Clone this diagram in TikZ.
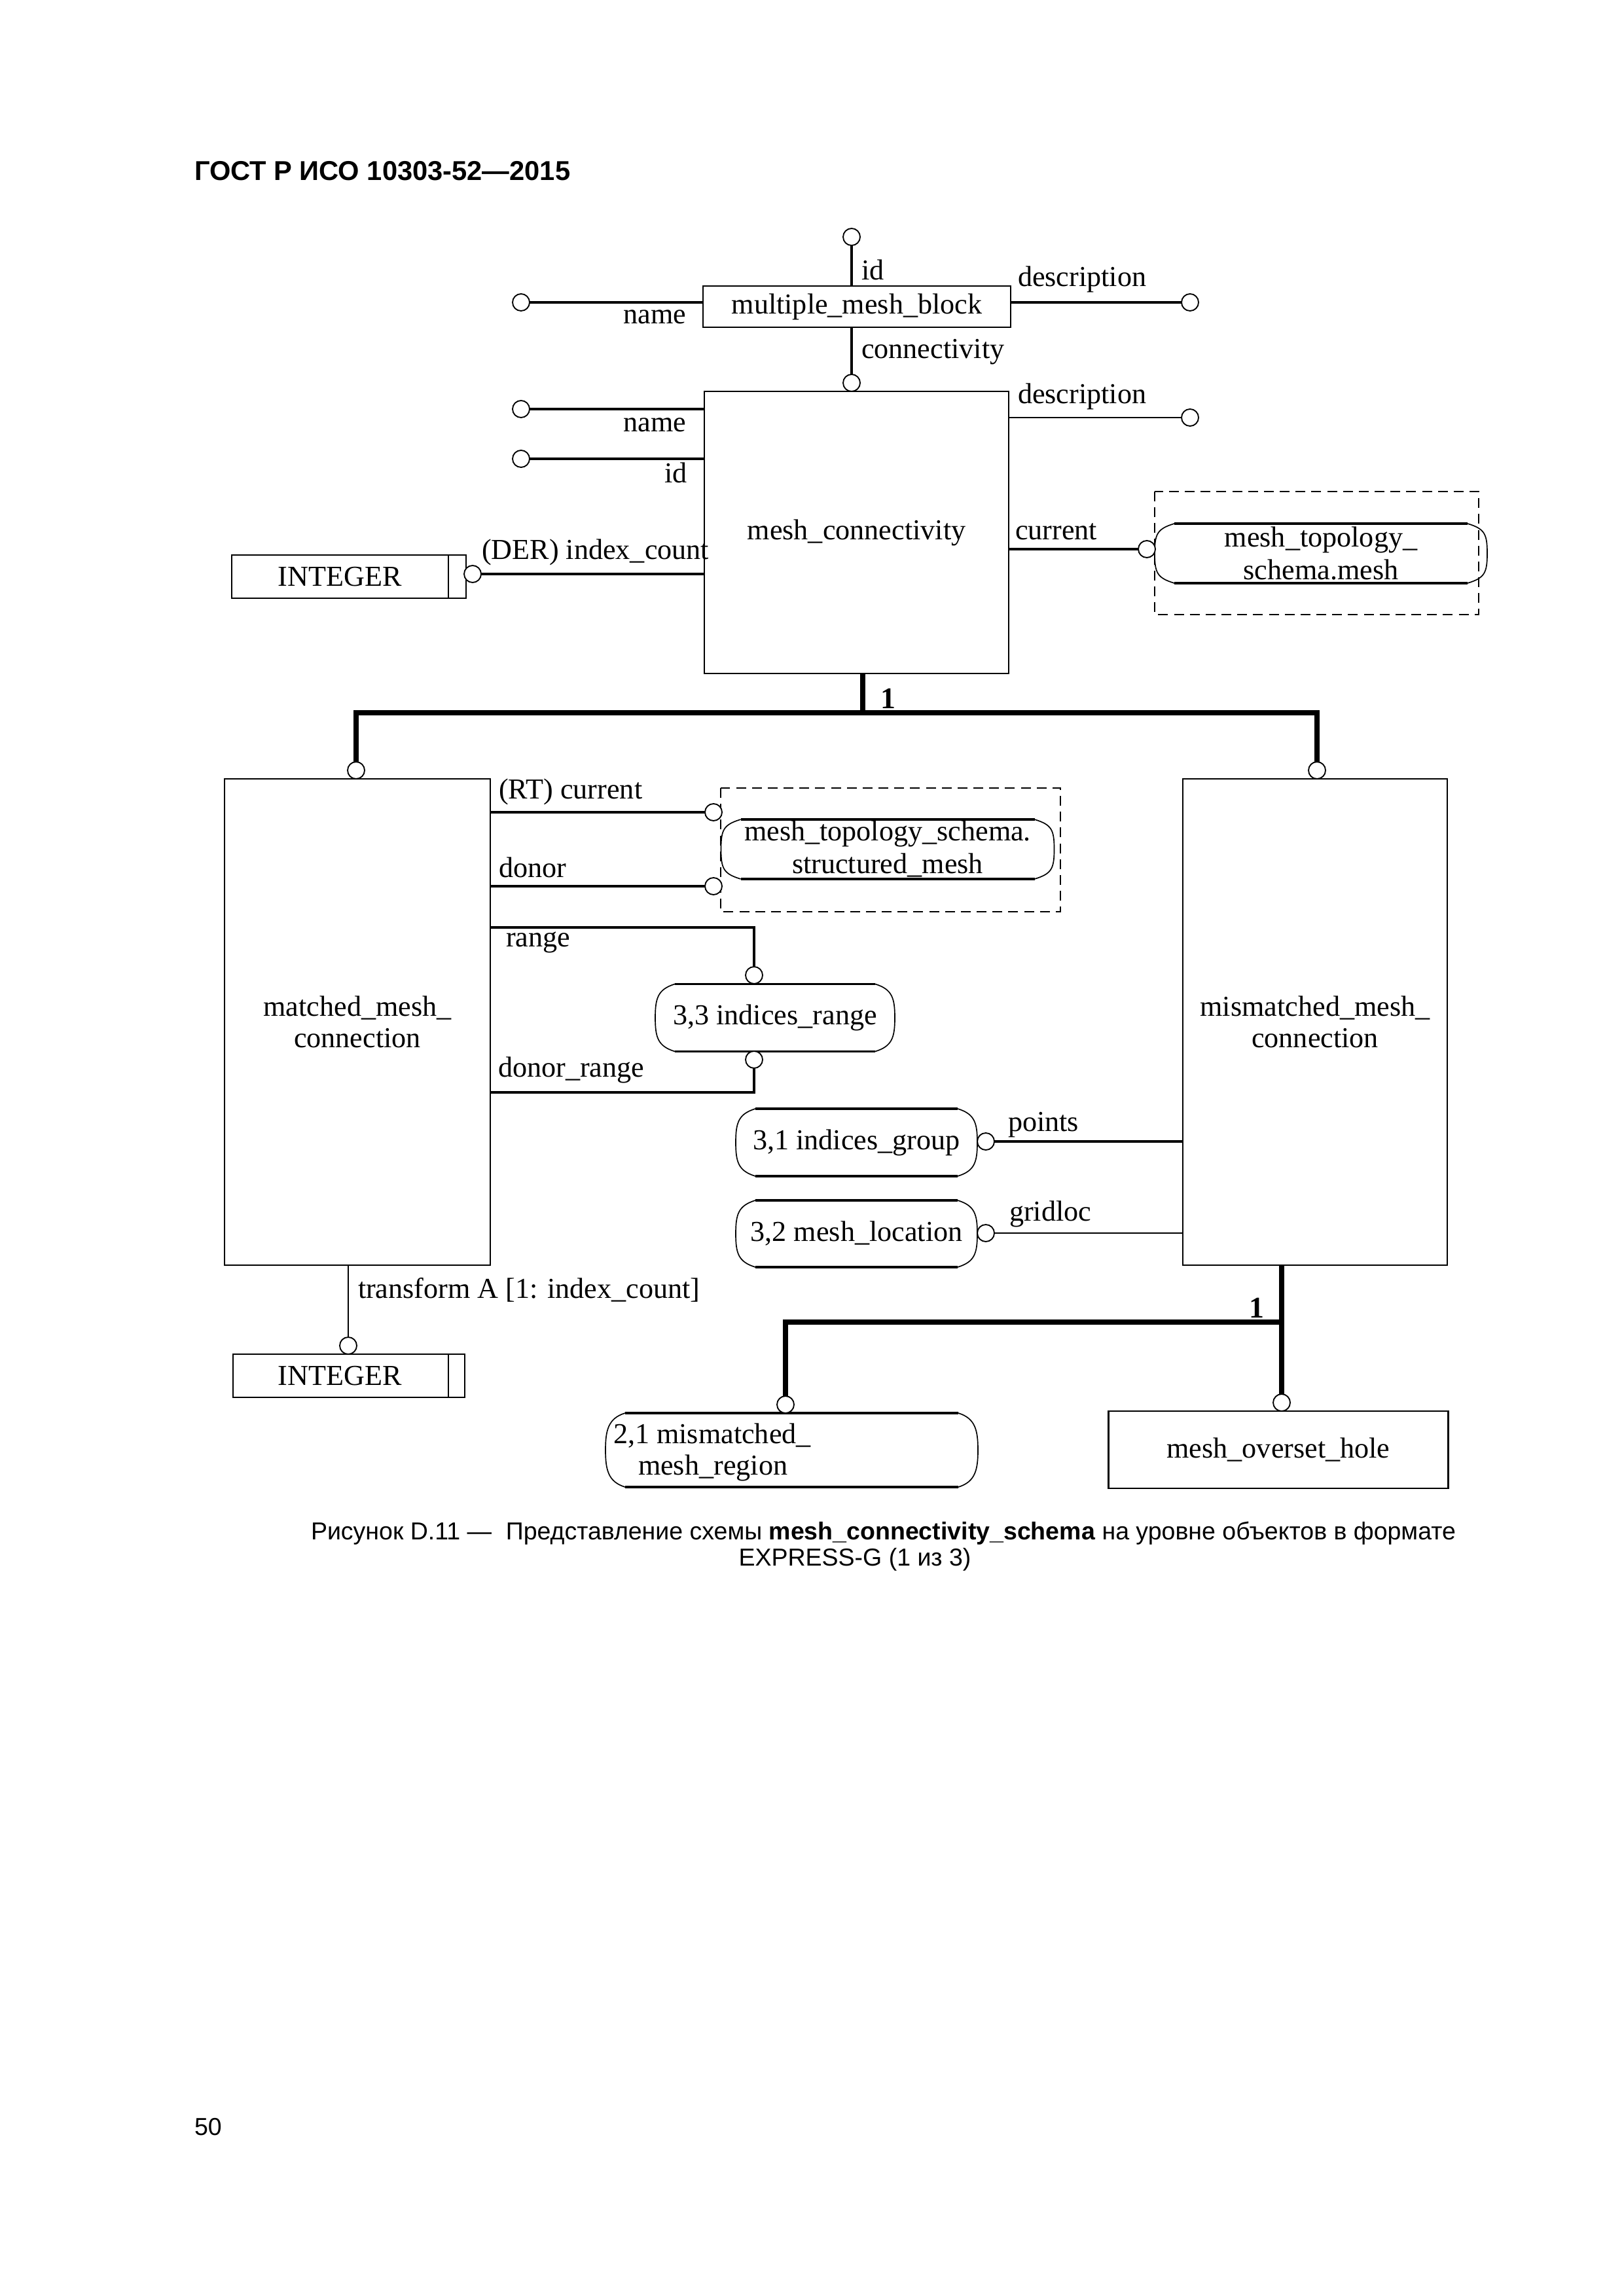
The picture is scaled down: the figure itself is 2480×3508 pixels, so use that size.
\documentclass[tikz,border=0pt]{standalone}
\usepackage{fontspec}
\setmainfont{Liberation Serif}
\newfontfamily\arialf{Liberation Sans}
\usetikzlibrary{calc}
\newcommand\tshape[1]{%
  \draw[line width=0.9pt] ($(#1.north west)+(30,0)$) -- ($(#1.north east)+(-30,0)$);
  \draw[line width=0.9pt] ($(#1.south west)+(30,0)$) -- ($(#1.south east)+(-30,0)$);
  \draw[line width=0.4pt] ($(#1.north west)+(30,0)$) .. controls ($(#1.north west)+(4,8)$) and ($(#1.west)+(0,-30)$) .. (#1.west)
     .. controls ($(#1.west)+(0,30)$) and ($(#1.south west)+(4,-8)$) .. ($(#1.south west)+(30,0)$);
  \draw[line width=0.4pt] ($(#1.north east)+(-30,0)$) .. controls ($(#1.north east)+(-4,8)$) and ($(#1.east)+(0,-30)$) .. (#1.east)
     .. controls ($(#1.east)+(0,30)$) and ($(#1.south east)+(-4,-8)$) .. ($(#1.south east)+(-30,0)$);
}
\begin{document}
\begin{tikzpicture}[x=0.24pt,y=-0.24pt,
  every node/.style={inner sep=0pt, outer sep=0pt},
  lbl/.style={font=\fontsize{10.6}{12}\selectfont},
  ent/.style 2 args={draw, line width=0.7pt, minimum width=#1*0.24pt, minimum height=#2*0.24pt,
     font=\fontsize{10.6}{11.6}\selectfont, align=center},
  typ/.style 2 args={minimum width=#1*0.24pt, minimum height=#2*0.24pt,
     font=\fontsize{10.6}{12}\selectfont, align=center},
  ecirc/.style={circle, draw, line width=0.45pt, fill=white, minimum size=26*0.24pt},
  attr/.style={line width=0.75pt},
  attrthin/.style={line width=0.5pt},
  subline/.style={line width=2pt},
  dbox/.style={dash pattern=on 3.6pt off 2.2pt, line width=0.6pt}
]
\fill[white] (0,0) rectangle (2480,3508);
\useasboundingbox (0,0) rectangle (2480,3508);

% header
\node[font=\arialf\bfseries\fontsize{10}{12}\selectfont, anchor=base west] (hdr) at (297,276) {ГОСТ Р ИСО 10303-52—2015};

% entities
\node[ent={470}{63}] (mmb) at (1309,468.5) {multiple\_mesh\_block};
\node[ent={465}{431}] (mc) at (1308.5,813.5) {mesh\_connectivity};
\node[ent={406}{743}] (mmc) at (546,1561.5) {matched\_mesh\_\\connection};
\node[ent={404}{743}] (mism) at (2009,1561.5) {mismatched\_mesh\_\\connection};
\node[ent={519}{118}] (moh) at (1953,2215) {mesh\_overset\_hole};

% simple types
\node[ent={358}{66}] (int1) at (533,881) {INTEGER\hspace{6.7pt}};
\draw[line width=0.7pt] ($(int1.north east)+(-27,0)$) -- ($(int1.south east)+(-27,0)$);
\node[ent={354}{66}] (int2) at (533,2102) {INTEGER\hspace{6.7pt}};
\draw[line width=0.7pt] ($(int2.north east)+(-25,0)$) -- ($(int2.south east)+(-25,0)$);

% defined types
\draw[dbox] (1764,751) rectangle (2259,939);
\node[typ={508}{91}] (mts) at (2018,845.5) {mesh\_topology\_\\schema.mesh};
\tshape{mts}
\draw[dbox] (1101,1204) rectangle (1620,1393);
\node[typ={509}{91}] (mtss) at (1356,1297.5) {mesh\_topology\_schema.\\structured\_mesh};
\tshape{mtss}
\node[typ={366}{103}] (ir) at (1184,1555) {3,3 indices\_range};
\tshape{ir}
\node[typ={369}{103}] (ig) at (1308.5,1745.5) {3,1 indices\_group};
\tshape{ig}
\node[typ={369}{102}] (ml) at (1308.5,1885) {3,2 mesh\_location};
\tshape{ml}
\node[typ={569}{113}] (mmr) at (1209.5,2215.5) {};
\tshape{mmr}
\node[lbl, anchor=base west] (mmrt1) at (937,2205) {2,1 mismatched\_};
\node[lbl, anchor=base west] (mmrt2) at (975,2253) {mesh\_region};

% circles
\node[ecirc] (cid) at (1301,362) {};
\node[ecirc] (cn1) at (796,462) {};
\node[ecirc] (cd1) at (1818,462) {};
\node[ecirc] (ccon) at (1301,585) {};
\node[ecirc] (cn2) at (796,625) {};
\node[ecirc] (cd2) at (1818,638) {};
\node[ecirc] (cid2) at (796,701) {};
\node[ecirc] (cic) at (722,877) {};
\node[ecirc] (ccur) at (1752,839) {};
\node[ecirc] (cmmc) at (544,1177) {};
\node[ecirc] (cmism) at (2012,1177) {};
\node[ecirc] (crt) at (1090,1241) {};
\node[ecirc] (cdon) at (1090,1354) {};
\node[ecirc] (crange) at (1152,1490) {};
\node[ecirc] (cdr) at (1152,1619) {};
\node[ecirc] (cpts) at (1506,1744) {};
\node[ecirc] (cgl) at (1506,1884) {};
\node[ecirc] (ctr) at (532,2056) {};
\node[ecirc] (cmoh) at (1958,2143) {};
\node[ecirc] (cmmr) at (1200,2146) {};

% attribute connectors
\draw[attr] (cid) -- (cid |- mmb.north);
\draw[attr] (cn1) -- (cn1 -| mmb.west);
\draw[attr] (mmb.east |- cd1) -- (cd1);
\draw[attr] (ccon |- mmb.south) -- (ccon);
\draw[attr] (cn2) -- (cn2 -| mc.west);
\draw[attrthin] (mc.east |- cd2) -- (cd2);
\draw[attr] (cid2) -- (cid2 -| mc.west);
\draw[attr] (cic) -- (cic -| mc.west);
\draw[attr] (mc.east |- ccur) -- (ccur);
\draw[attr] (mmc.east |- crt) -- (crt);
\draw[attr] (mmc.east |- cdon) -- (cdon);
\coordinate (kr) at (1152,1417);
\draw[attr] (kr -| mmc.east) -- (kr) -- (crange);
\coordinate (kdr) at (1152,1669);
\draw[attr] (kdr -| mmc.east) -- (kdr) -- (cdr);
\draw[attr] (cpts) -- (cpts -| mism.west);
\draw[attrthin] (cgl) -- (cgl -| mism.west);
\draw[line width=0.35pt] (ctr |- mmc.south) -- (ctr);

% subtype trees
\coordinate (t1) at (1318,1089);
\draw[subline] (t1 |- mc.south) -- (t1);
\draw[subline] (cmmc) -- (cmmc |- t1) -- (cmism |- t1) -- (cmism);
\coordinate (t2) at (1958,2020);
\draw[subline] (cmoh |- mism.south) -- (cmoh);
\draw[subline] (cmmr) -- (cmmr |- t2) -- (t2);

% labels
\node[lbl, anchor=base west] (lid) at (1316,428) {id};
\node[lbl, anchor=base east] (ln1) at (1048,495) {name};
\node[lbl, anchor=base west] (ld1) at (1555,438) {description};
\node[lbl, anchor=base west] (lcon) at (1316,548) {connectivity};
\node[lbl, anchor=base west] (ld2) at (1555,617) {description};
\node[lbl, anchor=base east] (ln2) at (1048,660) {name};
\node[lbl, anchor=base east] (lid2) at (1050,738) {id};
\node[lbl, anchor=base west] (lic) at (736,855) {(DER) index\_count};
\node[lbl, anchor=base west] (lcur) at (1551,825) {current};
\node[lbl, font=\bfseries\fontsize{11}{12}\selectfont, anchor=base west] (l1a) at (1345,1082) {1};
\node[lbl, anchor=base west] (lrt) at (762,1220) {(RT) current};
\node[lbl, anchor=base west] (ldon) at (762,1340) {donor};
\node[lbl, anchor=base west] (lrange) at (773,1446) {range};
\node[lbl, anchor=base west] (ldr) at (761,1645) {donor\_range};
\node[lbl, anchor=base west] (lpts) at (1540,1728) {points};
\node[lbl, anchor=base west] (lgl) at (1542,1865) {gridloc};
\node[lbl, anchor=base west] (ltr) at (547,1983) {transform A [1: index\_count]};
\node[lbl, font=\bfseries\fontsize{11}{12}\selectfont, anchor=base east] (l1b) at (1931,2013) {1};

% caption
\node[font=\arialf\fontsize{9}{11}\selectfont, anchor=base west] (cap1) at (475,2352)
  {Рисунок D.11 —\hspace{0.3em} Представление схемы \textbf{mesh\_connectivity\_schema} на уровне объектов в формате};
\node[font=\arialf\fontsize{9}{11}\selectfont, anchor=base] (cap2) at (1306,2392) {EXPRESS-G (1 из 3)};

% page number
\node[font=\arialf\fontsize{9}{11}\selectfont, anchor=base west] (pg) at (297,3262) {50};
\end{tikzpicture}
\end{document}
